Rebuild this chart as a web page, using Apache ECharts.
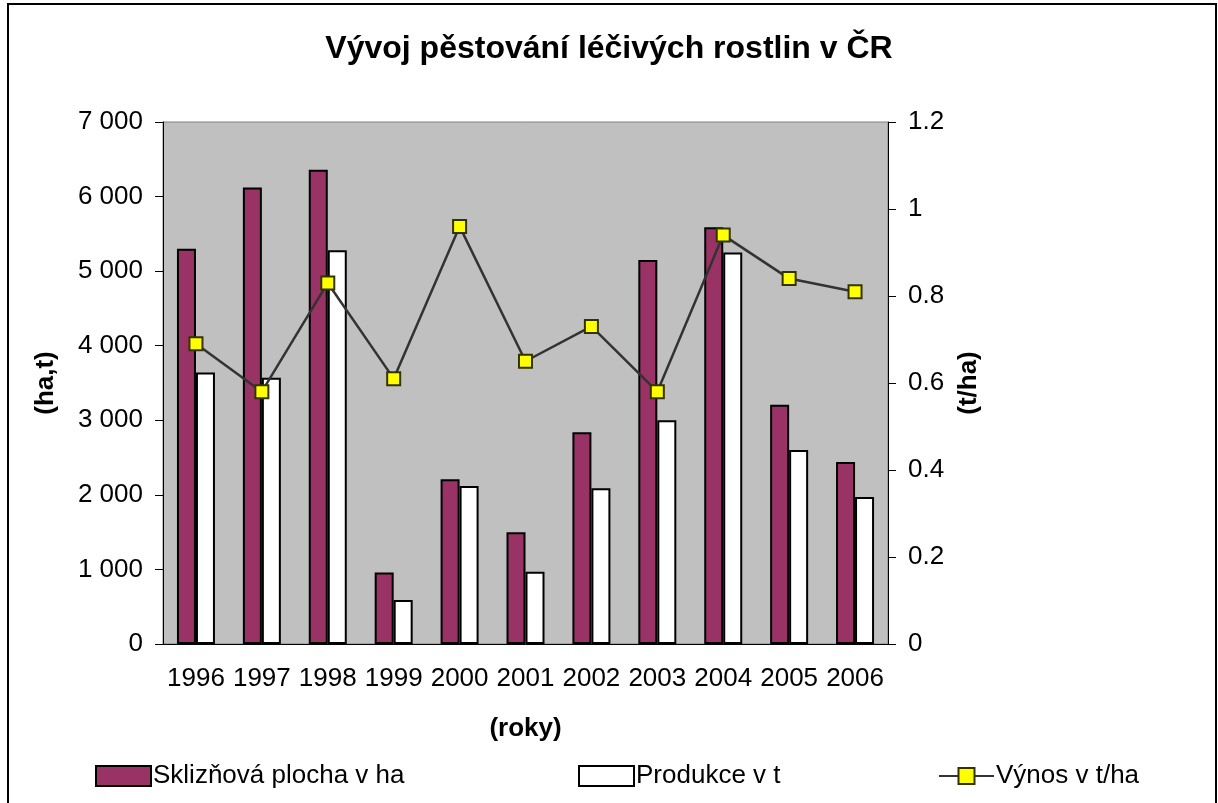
<!DOCTYPE html>
<html>
<head>
<meta charset="utf-8">
<script src="https://cdn.jsdelivr.net/npm/echarts@6/dist/echarts.min.js"></script>
<style>
html,body{margin:0;padding:0;background:#fff;}
#chart{width:1218px;height:803px;}
</style>
</head>
<body>
<div id="chart"></div>
<script>
// data
var years = ["1996","1997","1998","1999","2000","2001","2002","2003","2004","2005","2006"];
var plocha = [5300, 6120, 6360, 960, 2210, 1500, 2840, 5150, 5590, 3210, 2440];
var produkce = [3640, 3570, 5280, 590, 2120, 970, 2090, 3000, 5250, 2600, 1970];
var vynos = [0.69, 0.58, 0.83, 0.61, 0.96, 0.65, 0.73, 0.58, 0.94, 0.84, 0.81];
var leftTicks = [0, 1000, 2000, 3000, 4000, 5000, 6000, 7000];
var rightTicks = [0, 0.2, 0.4, 0.6, 0.8, 1, 1.2];

var font = "Liberation Sans, Arial, sans-serif";

function thousands(v) {
  return String(v).replace(/\B(?=(\d{3})+(?!\d))/g, " ");
}

var myChart = echarts.init(document.getElementById("chart"));

var option = {
  backgroundColor: "#fff",
  animation: false,
  textStyle: { fontFamily: font },
  title: {
    text: "Vývoj pěstování léčivých rostlin v ČR",
    left: "center",
    top: 28,
    textStyle: { fontSize: 32, fontWeight: "bold", color: "#000", fontFamily: font }
  },
  graphic: [{
    type: "rect",
    shape: { x: 8, y: 4, width: 1208, height: 900 },
    style: { fill: "none", stroke: "#000", lineWidth: 2 },
    silent: true
  }],
  legend: [
    { data: [{ name: "Sklizňová plocha v ha", icon: "rect" }], left: 95, top: 763 },
    { data: [{ name: "Produkce v t", icon: "rect" }], left: 578, top: 763 },
    { data: ["Výnos v t/ha"], left: 938, top: 763 }
  ].map(function (l) {
    l.itemWidth = 55;
    l.itemHeight = 20;
    l.itemGap = 0;
    l.padding = 0;
    l.textStyle = { fontSize: 26, color: "#000", fontFamily: font, padding: [0, 0, 0, -3] };
    return l;
  }),
  grid: {
    left: 163,
    right: 330,
    top: 122,
    bottom: 159,
    show: true,
    backgroundColor: "#C0C0C0",
    borderColor: "#808080",
    borderWidth: 1
  },
  xAxis: {
    type: "category",
    data: years,
    name: "(roky)",
    nameLocation: "middle",
    nameGap: 72,
    nameTextStyle: { fontSize: 26, fontWeight: "bold", color: "#000" },
    axisLine: { lineStyle: { color: "#000", width: 1 } },
    axisTick: { length: 8, interval: 0, lineStyle: { color: "#000" } },
    axisLabel: { fontSize: 26, color: "#000", margin: 22, interval: 0 }
  },
  yAxis: [{
    type: "value",
    min: leftTicks[0],
    max: leftTicks[leftTicks.length - 1],
    interval: 1000,
    name: "(ha,t)",
    nameLocation: "middle",
    nameRotate: 90,
    nameGap: 104,
    nameTextStyle: { fontSize: 26, fontWeight: "bold", color: "#000" },
    axisLine: { show: true, lineStyle: { color: "#000", width: 1 } },
    axisTick: { show: true, length: 8, lineStyle: { color: "#000" } },
    splitLine: { show: false },
    axisLabel: { fontSize: 26, color: "#000", margin: 20, formatter: thousands }
  }, {
    type: "value",
    position: "right",
    min: rightTicks[0],
    max: rightTicks[rightTicks.length - 1],
    interval: 0.2,
    name: "(t/ha)",
    nameLocation: "middle",
    nameRotate: 90,
    nameGap: 68,
    nameTextStyle: { fontSize: 26, fontWeight: "bold", color: "#000" },
    axisLine: { show: true, lineStyle: { color: "#000", width: 1 } },
    axisTick: { show: true, length: 8, lineStyle: { color: "#000" } },
    splitLine: { show: false },
    axisLabel: { fontSize: 26, color: "#000", margin: 20 }
  }],
  series: [{
    name: "Sklizňová plocha v ha",
    type: "bar",
    data: plocha,
    barWidth: 19,
    barGap: "0%",
    itemStyle: { color: "#993366", borderColor: "#000", borderWidth: 2 }
  }, {
    name: "Produkce v t",
    type: "bar",
    data: produkce,
    barWidth: 19,
    barGap: "0%",
    itemStyle: { color: "#FFFFFF", borderColor: "#000", borderWidth: 2 }
  }, {
    name: "Výnos v t/ha",
    type: "line",
    yAxisIndex: 1,
    data: vynos,
    symbol: "rect",
    symbolSize: 13,
    lineStyle: { color: "#333333", width: 2.5 },
    itemStyle: { color: "#FFFF00", borderColor: "#333300", borderWidth: 2 }
  }]
};

myChart.setOption(option);
</script>
</body>
</html>
